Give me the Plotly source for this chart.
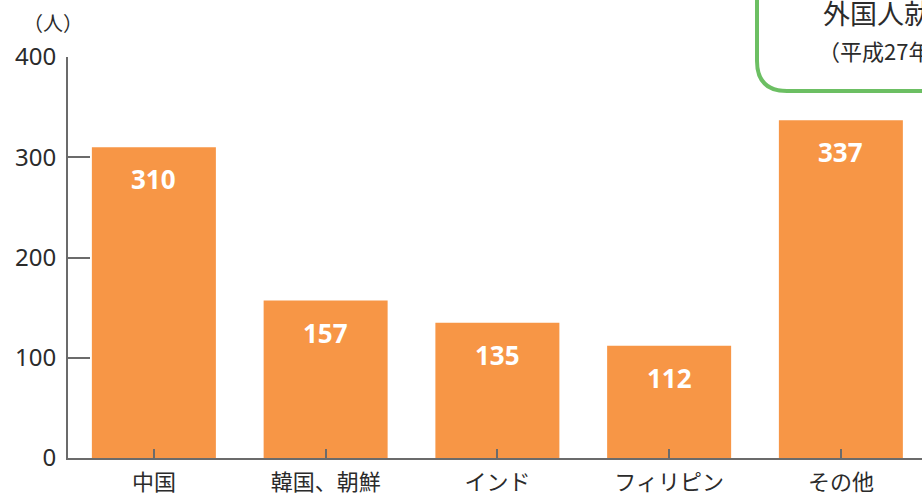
import plotly.graph_objects as go

categories = ["中国", "韓国、朝鮮", "インド", "フィリピン", "その他"]
values = [310, 157, 135, 112, 337]
y_ticks = [0, 100, 200, 300, 400]
unit_label = "（人）"
box_title = "外国人就労者数"
box_sub = "（平成27年10月末現在）"

FONT = "Noto Sans CJK JP"
NUMFONT = "Noto Sans, Noto Sans CJK JP"
BAR = "#F79646"
AXIS = "#6b6b6b"
TXT = "#2b2b2b"
GREEN = "#6cbf63"

W, H = 922, 495
L, R, T, B = 68, 0, 57, 37
pw, ph = W - L - R, H - T - B
CAT_PX = 171.75

def px(x):
    return (x - L) / pw

def py(y):
    return (H - B - y) / ph

x_idx = list(range(len(categories)))

fig = go.Figure(go.Bar(
    x=x_idx, y=values, marker=dict(color=BAR, line=dict(width=0)),
    hoverinfo="skip",
))

for i, v in zip(x_idx, values):
    fig.add_annotation(x=i, y=v, text=f"<b>{v}</b>", showarrow=False,
                       yanchor="middle", yshift=-32,
                       font=dict(family=NUMFONT, size=26, color="white"))

# unit label
fig.add_annotation(xref="paper", yref="paper", x=px(53), y=py(22),
                   text=unit_label, showarrow=False, xanchor="center",
                   yanchor="middle", font=dict(family=FONT, size=20, color=TXT))

# rounded green box (partially outside)
xl, xr = px(757), px(960)
yb, yt = py(91), py(-20)
rx, ry = 30 / pw, 30 / ph
path = (f"M {xl},{yt} L {xl},{yb + ry} Q {xl},{yb} {xl + rx},{yb} L {xr},{yb}")
fig.add_shape(type="path", xref="paper", yref="paper", path=path,
              line=dict(color=GREEN, width=4))
fig.add_annotation(xref="paper", yref="paper", x=px(821), y=py(12),
                   text=box_title, showarrow=False, xanchor="left",
                   yanchor="middle", font=dict(family=FONT, size=27, color=TXT))
fig.add_annotation(xref="paper", yref="paper", x=px(816), y=py(50),
                   text=box_sub, showarrow=False, xanchor="left",
                   yanchor="middle", font=dict(family=FONT, size=22, color=TXT))

fig.update_layout(
    width=W, height=H,
    margin=dict(l=L, r=R, t=T, b=B, pad=0, autoexpand=False),
    paper_bgcolor="white", plot_bgcolor="white",
    bargap=1 - 124 / CAT_PX, showlegend=False,
    font=dict(family=FONT, color=TXT),
)
fig.update_xaxes(
    range=[-0.5, -0.5 + pw / CAT_PX], tickmode="array", tickvals=x_idx,
    ticktext=categories, tickson="boundaries", ticks="inside", ticklen=9,
    tickwidth=2, tickcolor=AXIS, showline=True, linecolor=AXIS, linewidth=2,
    showgrid=False, zeroline=False, tickfont=dict(family=FONT, size=22, color=TXT),
    ticklabelstandoff=4, automargin=False,
)
fig.update_yaxes(
    range=[0, 400], tickmode="array", tickvals=y_ticks, ticks="inside",
    ticklen=22, tickwidth=2, tickcolor=AXIS, showline=True, linecolor=AXIS,
    linewidth=2, showgrid=False, zeroline=False,
    tickfont=dict(family=NUMFONT, size=24, color=TXT), ticklabelstandoff=5,
    automargin=False,
)

fig.write_html(
    "out.html",
    config={"displayModeBar": False},
    post_script="document.body.style.margin='0';document.body.style.overflow='hidden';",
)
